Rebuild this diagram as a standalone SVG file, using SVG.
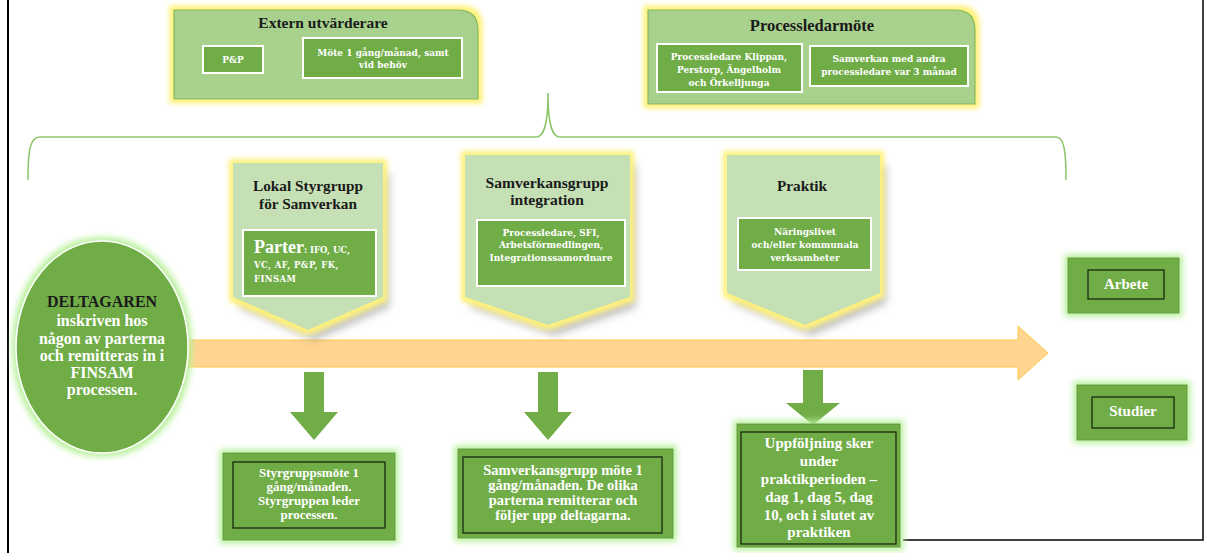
<svg xmlns="http://www.w3.org/2000/svg" width="1212" height="553" viewBox="0 0 1212 553">
<style>
.t{font-family:"Liberation Serif","DejaVu Serif",serif;font-weight:bold;text-anchor:middle}
.s{font-family:"DejaVu Serif","Liberation Serif",serif;font-weight:bold;text-anchor:middle;font-size:9px;fill:#ffffff}
.sl{font-family:"DejaVu Serif","Liberation Serif",serif;font-weight:bold;font-size:8.5px;fill:#ffffff}
.e{font-family:"Liberation Serif","DejaVu Serif",serif;font-weight:bold;text-anchor:middle;font-size:16px;fill:#ffffff}
.dk{fill:#1a1a1a}
.w{fill:#ffffff}
.top{fill:#a9d18e;stroke:#7fb85a;stroke-width:1.2}
.pent{fill:#c5e0b4}
.inW{fill:#70ad47;stroke:#ffffff;stroke-width:2}
.outG{fill:#70ad47;stroke:#5f9a3a;stroke-width:1}
.inB{fill:#70ad47;stroke:#1a2a10;stroke-width:1.3}
.garrow{fill:#70ad47}
</style>
<defs>
<filter id="yg" x="-20%" y="-20%" width="140%" height="140%">
<feMorphology in="SourceAlpha" operator="dilate" radius="4" result="d"/>
<feGaussianBlur in="d" stdDeviation="2.5" result="b"/>
<feFlood flood-color="#fff27a"/>
<feComposite in2="b" operator="in" result="g"/>
<feMerge><feMergeNode in="g"/><feMergeNode in="SourceGraphic"/></feMerge>
</filter>
<filter id="ygs" x="-20%" y="-20%" width="150%" height="150%">
<feGaussianBlur in="SourceAlpha" stdDeviation="4" result="sb"/>
<feOffset in="sb" dx="6" dy="10" result="so"/>
<feFlood flood-color="#808080" flood-opacity="0.55"/>
<feComposite in2="so" operator="in" result="sh"/>
<feMorphology in="SourceAlpha" operator="dilate" radius="4" result="d"/>
<feGaussianBlur in="d" stdDeviation="2.5" result="b"/>
<feFlood flood-color="#fff27a"/>
<feComposite in2="b" operator="in" result="g"/>
<feMerge><feMergeNode in="sh"/><feMergeNode in="g"/><feMergeNode in="SourceGraphic"/></feMerge>
</filter>
<filter id="gg" x="-20%" y="-20%" width="140%" height="140%">
<feMorphology in="SourceAlpha" operator="dilate" radius="3" result="d"/>
<feGaussianBlur in="d" stdDeviation="3" result="b"/>
<feFlood flood-color="#b8f09a"/>
<feComposite in2="b" operator="in" result="g"/>
<feMerge><feMergeNode in="g"/><feMergeNode in="SourceGraphic"/></feMerge>
</filter>
</defs>
<rect width="1212" height="553" fill="#ffffff"/>
<path d="M8 0 V553" stroke="#000" stroke-width="2" fill="none"/>
<path d="M1203 0 V540 H903" stroke="#000" stroke-width="1.5" fill="none"/>

<g id="connectors">
<path d="M28 180 C28 150 30 137 40 137 H536 C544 137 548 125 548 93 C548 125 552 137 560 137 H1056 C1064 137 1066 150 1066 180" fill="none" stroke="#8cc66a" stroke-width="1.5"/>
<path d="M181 340 H1018 V326 L1048 353 L1018 380 V367 H181 Z" fill="#ffd58f" stroke="#ffc94a" stroke-width="1"/>
<path class="garrow" d="M304 372 H324 V412 H338 L314 440 L290 412 H304 Z"/>
<path class="garrow" d="M538 372 H558 V412 H572 L548 440 L524 412 H538 Z"/>
<path class="garrow" d="M803 370 H823 V403 H840 L813 425 L786 403 H803 Z"/>
</g>

<g id="extern">
<path class="top" filter="url(#yg)" d="M174 10 H458 Q478 10 478 30 V99 H174 Z"/>
<text class="t dk" x="323" y="28" font-size="15.5">Extern utvärderare</text>
<rect class="inW" x="203" y="46" width="60" height="27"/>
<text class="s" x="233" y="63">P&amp;P</text>
<rect class="inW" x="303" y="38" width="159" height="40"/>
<text class="s" x="383" y="56">Möte 1 gång/månad, samt</text>
<text class="s" x="383" y="68">vid behöv</text>
</g>

<g id="processledarmote">
<path class="top" filter="url(#yg)" d="M648 10 H955 Q975 10 975 30 V104 H648 Z"/>
<text class="t dk" x="812" y="31" font-size="16.5">Processledarmöte</text>
<rect class="inW" x="657" y="44" width="145" height="48"/>
<text class="s" x="729" y="60">Processledare Klippan,</text>
<text class="s" x="729" y="73">Perstorp, Ängelholm</text>
<text class="s" x="729" y="86">och Örkelljunga</text>
<rect class="inW" x="810" y="46" width="158" height="40"/>
<text class="s" x="889" y="62">Samverkan med andra</text>
<text class="s" x="889" y="75">processledare var 3 månad</text>
</g>

<g id="styrgrupp">
<path class="pent" filter="url(#ygs)" d="M233 163 H383 V297 L308 330 L233 297 Z"/>
<text class="t dk" x="308" y="191" font-size="15.3">Lokal Styrgrupp</text>
<text class="t dk" x="308" y="209" font-size="15.3">för Samverkan</text>
<rect class="inW" x="243" y="230" width="133" height="66"/>
<text x="254" y="253" class="sl"><tspan font-family="Liberation Serif,serif" font-size="18px">Parter</tspan>: IFO, UC,</text>
<text x="254" y="268" class="sl" font-size="9.5px" letter-spacing="0.4">VC, AF, P&amp;P, FK,</text>
<text x="254" y="282" class="sl" font-size="9.5px" letter-spacing="0.4">FINSAM</text>
</g>

<g id="samverkansgrupp">
<path class="pent" filter="url(#ygs)" d="M465 155 H630 V297 L548 325 L465 297 Z"/>
<text class="t dk" x="547" y="188" font-size="15.6">Samverkansgrupp</text>
<text class="t dk" x="547" y="205" font-size="15.6">integration</text>
<rect class="inW" x="477" y="220" width="148" height="66"/>
<text class="s" x="551" y="236">Processledare, SFI,</text>
<text class="s" x="551" y="248">Arbetsförmedlingen,</text>
<text class="s" x="551" y="261">Integrationssamordnare</text>
</g>

<g id="praktik">
<path class="pent" filter="url(#ygs)" d="M727 155 H880 V293 L805 325 L727 293 Z"/>
<text class="t dk" x="802" y="191" font-size="15.3">Praktik</text>
<rect class="inW" x="738" y="218" width="133" height="52"/>
<text class="s" x="805" y="235">Näringslivet</text>
<text class="s" x="805" y="248">och/eller kommunala</text>
<text class="s" x="805" y="261">verksamheter</text>
</g>

<g id="deltagaren">
<ellipse cx="102" cy="347" rx="86" ry="106" fill="#70ad47" stroke="#ffffff" stroke-width="1.5" filter="url(#gg)"/>
<text class="t dk" x="102" y="307" font-size="16">DELTAGAREN</text>
<text class="e" x="102" y="326">inskriven hos</text>
<text class="e" x="102" y="344">någon av parterna</text>
<text class="e" x="102" y="361">och remitteras in i</text>
<text class="e" x="102" y="378">FINSAM</text>
<text class="e" x="102" y="395">processen.</text>
</g>

<g id="styrgruppsmote">
<rect class="outG" filter="url(#gg)" x="223" y="453" width="172" height="87"/>
<rect class="inB" x="233" y="462" width="152" height="66"/>
<text class="t w" x="309" y="477" font-size="13">Styrgruppsmöte 1</text>
<text class="t w" x="309" y="491" font-size="13">gång/månaden.</text>
<text class="t w" x="309" y="505" font-size="13">Styrgruppen leder</text>
<text class="t w" x="309" y="519" font-size="13">processen.</text>
</g>

<g id="samverkansmote">
<rect class="outG" filter="url(#gg)" x="458" y="449" width="215" height="89"/>
<rect class="inB" x="463" y="457" width="199" height="76"/>
<text class="t w" x="563" y="475" font-size="14.5">Samverkansgrupp möte 1</text>
<text class="t w" x="563" y="490" font-size="14.5">gång/månaden. De olika</text>
<text class="t w" x="563" y="505" font-size="14.5">parterna remitterar och</text>
<text class="t w" x="563" y="520" font-size="14.5">följer upp deltagarna.</text>
</g>

<g id="uppfoljning">
<rect class="outG" filter="url(#gg)" x="737" y="424" width="163" height="123"/>
<rect class="inB" x="741" y="432" width="155" height="112"/>
<text class="t w" x="819" y="448" font-size="15">Uppföljning sker</text>
<text class="t w" x="819" y="466" font-size="15">under</text>
<text class="t w" x="819" y="484" font-size="15">praktikperioden –</text>
<text class="t w" x="819" y="502" font-size="15">dag 1, dag 5, dag</text>
<text class="t w" x="819" y="520" font-size="15">10, och i slutet av</text>
<text class="t w" x="819" y="537" font-size="15">praktiken</text>
</g>

<g id="arbete">
<rect class="outG" filter="url(#gg)" x="1068" y="258" width="111" height="55"/>
<rect class="inB" x="1088" y="270" width="76" height="29"/>
<text class="t w" x="1126" y="289" font-size="15">Arbete</text>
</g>

<g id="studier">
<rect class="outG" filter="url(#gg)" x="1077" y="385" width="110" height="55"/>
<rect class="inB" x="1092" y="397" width="82" height="31"/>
<text class="t w" x="1133" y="416" font-size="15">Studier</text>
</g>
</svg>
